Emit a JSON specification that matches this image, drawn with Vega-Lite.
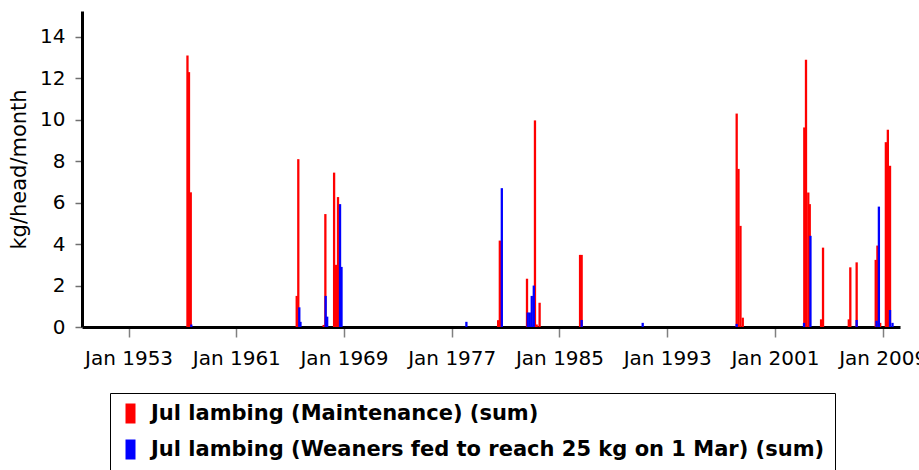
{
  "$schema": "https://vega.github.io/schema/vega-lite/v6.json",
  "width": 818,
  "height": 316,
  "autosize": {"type": "none"},
  "padding": {"left": 82, "top": 11, "right": 19, "bottom": 143},
  "background": "white",
  "config": {"view": {"stroke": null}, "font": "DejaVu Sans"},
  "data": {
    "values": [
      {"date": "1957-05-18", "series": "Jul lambing (Maintenance) (sum)", "value": 13.1},
      {"date": "1957-06-28", "series": "Jul lambing (Maintenance) (sum)", "value": 12.3},
      {"date": "1957-08-15", "series": "Jul lambing (Maintenance) (sum)", "value": 6.5},
      {"date": "1965-06-28", "series": "Jul lambing (Maintenance) (sum)", "value": 1.5},
      {"date": "1965-08-10", "series": "Jul lambing (Maintenance) (sum)", "value": 8.1},
      {"date": "1967-06-29", "series": "Jul lambing (Maintenance) (sum)", "value": 0.1},
      {"date": "1967-08-14", "series": "Jul lambing (Maintenance) (sum)", "value": 5.45},
      {"date": "1968-04-07", "series": "Jul lambing (Maintenance) (sum)", "value": 7.45},
      {"date": "1968-05-29", "series": "Jul lambing (Maintenance) (sum)", "value": 3.0},
      {"date": "1968-07-22", "series": "Jul lambing (Maintenance) (sum)", "value": 6.27},
      {"date": "1980-06-13", "series": "Jul lambing (Maintenance) (sum)", "value": 0.33},
      {"date": "1980-07-28", "series": "Jul lambing (Maintenance) (sum)", "value": 4.17},
      {"date": "1982-08-04", "series": "Jul lambing (Maintenance) (sum)", "value": 2.33},
      {"date": "1983-03-08", "series": "Jul lambing (Maintenance) (sum)", "value": 9.97},
      {"date": "1983-04-23", "series": "Jul lambing (Maintenance) (sum)", "value": 0.12},
      {"date": "1983-07-12", "series": "Jul lambing (Maintenance) (sum)", "value": 1.17},
      {"date": "1986-07-13", "series": "Jul lambing (Maintenance) (sum)", "value": 3.48},
      {"date": "1986-08-25", "series": "Jul lambing (Maintenance) (sum)", "value": 3.48},
      {"date": "1998-02-28", "series": "Jul lambing (Maintenance) (sum)", "value": 10.3},
      {"date": "1998-04-18", "series": "Jul lambing (Maintenance) (sum)", "value": 7.63},
      {"date": "1998-06-11", "series": "Jul lambing (Maintenance) (sum)", "value": 4.88},
      {"date": "1998-08-12", "series": "Jul lambing (Maintenance) (sum)", "value": 0.45},
      {"date": "2003-03-08", "series": "Jul lambing (Maintenance) (sum)", "value": 9.63},
      {"date": "2003-04-23", "series": "Jul lambing (Maintenance) (sum)", "value": 12.9},
      {"date": "2003-06-24", "series": "Jul lambing (Maintenance) (sum)", "value": 6.49},
      {"date": "2003-08-03", "series": "Jul lambing (Maintenance) (sum)", "value": 5.93},
      {"date": "2004-06-05", "series": "Jul lambing (Maintenance) (sum)", "value": 0.37},
      {"date": "2004-07-28", "series": "Jul lambing (Maintenance) (sum)", "value": 3.83},
      {"date": "2006-06-27", "series": "Jul lambing (Maintenance) (sum)", "value": 0.37},
      {"date": "2006-08-07", "series": "Jul lambing (Maintenance) (sum)", "value": 2.88},
      {"date": "2007-01-26", "series": "Jul lambing (Maintenance) (sum)", "value": 3.12},
      {"date": "2008-06-26", "series": "Jul lambing (Maintenance) (sum)", "value": 3.24},
      {"date": "2008-08-11", "series": "Jul lambing (Maintenance) (sum)", "value": 3.93},
      {"date": "2008-10-25", "series": "Jul lambing (Maintenance) (sum)", "value": 0.2},
      {"date": "2009-03-28", "series": "Jul lambing (Maintenance) (sum)", "value": 8.92},
      {"date": "2009-05-21", "series": "Jul lambing (Maintenance) (sum)", "value": 9.52},
      {"date": "2009-07-19", "series": "Jul lambing (Maintenance) (sum)", "value": 7.78},
      {"date": "1957-08-30", "series": "Jul lambing (Weaners fed to reach 25 kg on 1 Mar) (sum)", "value": 0.12},
      {"date": "1965-09-06", "series": "Jul lambing (Weaners fed to reach 25 kg on 1 Mar) (sum)", "value": 0.95},
      {"date": "1965-10-08", "series": "Jul lambing (Weaners fed to reach 25 kg on 1 Mar) (sum)", "value": 0.25},
      {"date": "1967-08-22", "series": "Jul lambing (Weaners fed to reach 25 kg on 1 Mar) (sum)", "value": 1.5},
      {"date": "1967-10-02", "series": "Jul lambing (Weaners fed to reach 25 kg on 1 Mar) (sum)", "value": 0.5},
      {"date": "1968-09-15", "series": "Jul lambing (Weaners fed to reach 25 kg on 1 Mar) (sum)", "value": 5.93},
      {"date": "1968-10-25", "series": "Jul lambing (Weaners fed to reach 25 kg on 1 Mar) (sum)", "value": 2.9},
      {"date": "1978-02-02", "series": "Jul lambing (Weaners fed to reach 25 kg on 1 Mar) (sum)", "value": 0.25},
      {"date": "1980-09-20", "series": "Jul lambing (Weaners fed to reach 25 kg on 1 Mar) (sum)", "value": 6.7},
      {"date": "1982-08-25", "series": "Jul lambing (Weaners fed to reach 25 kg on 1 Mar) (sum)", "value": 0.7},
      {"date": "1982-10-18", "series": "Jul lambing (Weaners fed to reach 25 kg on 1 Mar) (sum)", "value": 0.7},
      {"date": "1982-12-11", "series": "Jul lambing (Weaners fed to reach 25 kg on 1 Mar) (sum)", "value": 1.5},
      {"date": "1983-02-04", "series": "Jul lambing (Weaners fed to reach 25 kg on 1 Mar) (sum)", "value": 2.0},
      {"date": "1986-08-25", "series": "Jul lambing (Weaners fed to reach 25 kg on 1 Mar) (sum)", "value": 0.34},
      {"date": "1991-03-08", "series": "Jul lambing (Weaners fed to reach 25 kg on 1 Mar) (sum)", "value": 0.2},
      {"date": "1998-02-28", "series": "Jul lambing (Weaners fed to reach 25 kg on 1 Mar) (sum)", "value": 0.15},
      {"date": "2003-03-01", "series": "Jul lambing (Weaners fed to reach 25 kg on 1 Mar) (sum)", "value": 0.2},
      {"date": "2003-08-22", "series": "Jul lambing (Weaners fed to reach 25 kg on 1 Mar) (sum)", "value": 4.4},
      {"date": "2007-01-26", "series": "Jul lambing (Weaners fed to reach 25 kg on 1 Mar) (sum)", "value": 0.34},
      {"date": "2008-07-20", "series": "Jul lambing (Weaners fed to reach 25 kg on 1 Mar) (sum)", "value": 0.3},
      {"date": "2008-09-20", "series": "Jul lambing (Weaners fed to reach 25 kg on 1 Mar) (sum)", "value": 5.81},
      {"date": "2009-07-19", "series": "Jul lambing (Weaners fed to reach 25 kg on 1 Mar) (sum)", "value": 0.82},
      {"date": "2009-09-25", "series": "Jul lambing (Weaners fed to reach 25 kg on 1 Mar) (sum)", "value": 0.2}
    ]
  },
  "mark": {"type": "bar", "size": 2.3},
  "encoding": {
    "x": {
      "field": "date",
      "type": "temporal",
      "scale": {
        "type": "utc",
        "domain": [
          {"year": 1949, "month": 12, "date": 1, "utc": true},
          {"year": 2009, "month": 12, "date": 1, "utc": true}
        ]
      },
      "axis": {
        "title": null,
        "values": [
          {"year": 1953, "month": 1, "date": 1, "utc": true},
          {"year": 1961, "month": 1, "date": 1, "utc": true},
          {"year": 1969, "month": 1, "date": 1, "utc": true},
          {"year": 1977, "month": 1, "date": 1, "utc": true},
          {"year": 1985, "month": 1, "date": 1, "utc": true},
          {"year": 1993, "month": 1, "date": 1, "utc": true},
          {"year": 2001, "month": 1, "date": 1, "utc": true},
          {"year": 2009, "month": 1, "date": 1, "utc": true}
        ],
        "format": "%b %Y",
        "grid": false,
        "domainColor": "#000000",
        "domainWidth": 3,
        "tickColor": "#808080",
        "tickSize": 10,
        "tickWidth": 1.5,
        "labelFontSize": 20,
        "labelColor": "#000000",
        "labelPadding": 11,
        "labelFlush": false,
        "labelOverlap": false
      }
    },
    "y": {
      "field": "value",
      "type": "quantitative",
      "stack": null,
      "scale": {"domain": [0, 15.25], "nice": false, "zero": true},
      "axis": {
        "title": "kg/head/month",
        "values": [0, 2, 4, 6, 8, 10, 12, 14],
        "format": "d",
        "grid": false,
        "domainColor": "#000000",
        "domainWidth": 3,
        "tickColor": "#707070",
        "tickSize": 7,
        "tickWidth": 1.5,
        "labelFontSize": 20,
        "labelColor": "#000000",
        "labelPadding": 10,
        "titleFontSize": 21,
        "titleFontWeight": "normal",
        "titleColor": "#000000",
        "titlePadding": 10
      }
    },
    "color": {
      "field": "series",
      "type": "nominal",
      "scale": {
        "domain": ["Jul lambing (Maintenance) (sum)", "Jul lambing (Weaners fed to reach 25 kg on 1 Mar) (sum)"],
        "range": ["#ff0000", "#0000ff"]
      },
      "legend": {
        "title": null,
        "orient": "none",
        "legendX": 28,
        "legendY": 382,
        "direction": "vertical",
        "labelFontSize": 21,
        "labelFontWeight": "bold",
        "labelColor": "#000000",
        "labelLimit": 900,
        "labelOffset": 10,
        "symbolType": "M-0.5,-1H0.5V1H-0.5Z",
        "symbolSize": 400,
        "symbolStrokeWidth": 0,
        "symbolOpacity": 1,
        "strokeColor": "#000000",
        "fillColor": "#ffffff",
        "padding": 10,
        "rowPadding": 14
      }
    }
  }
}
